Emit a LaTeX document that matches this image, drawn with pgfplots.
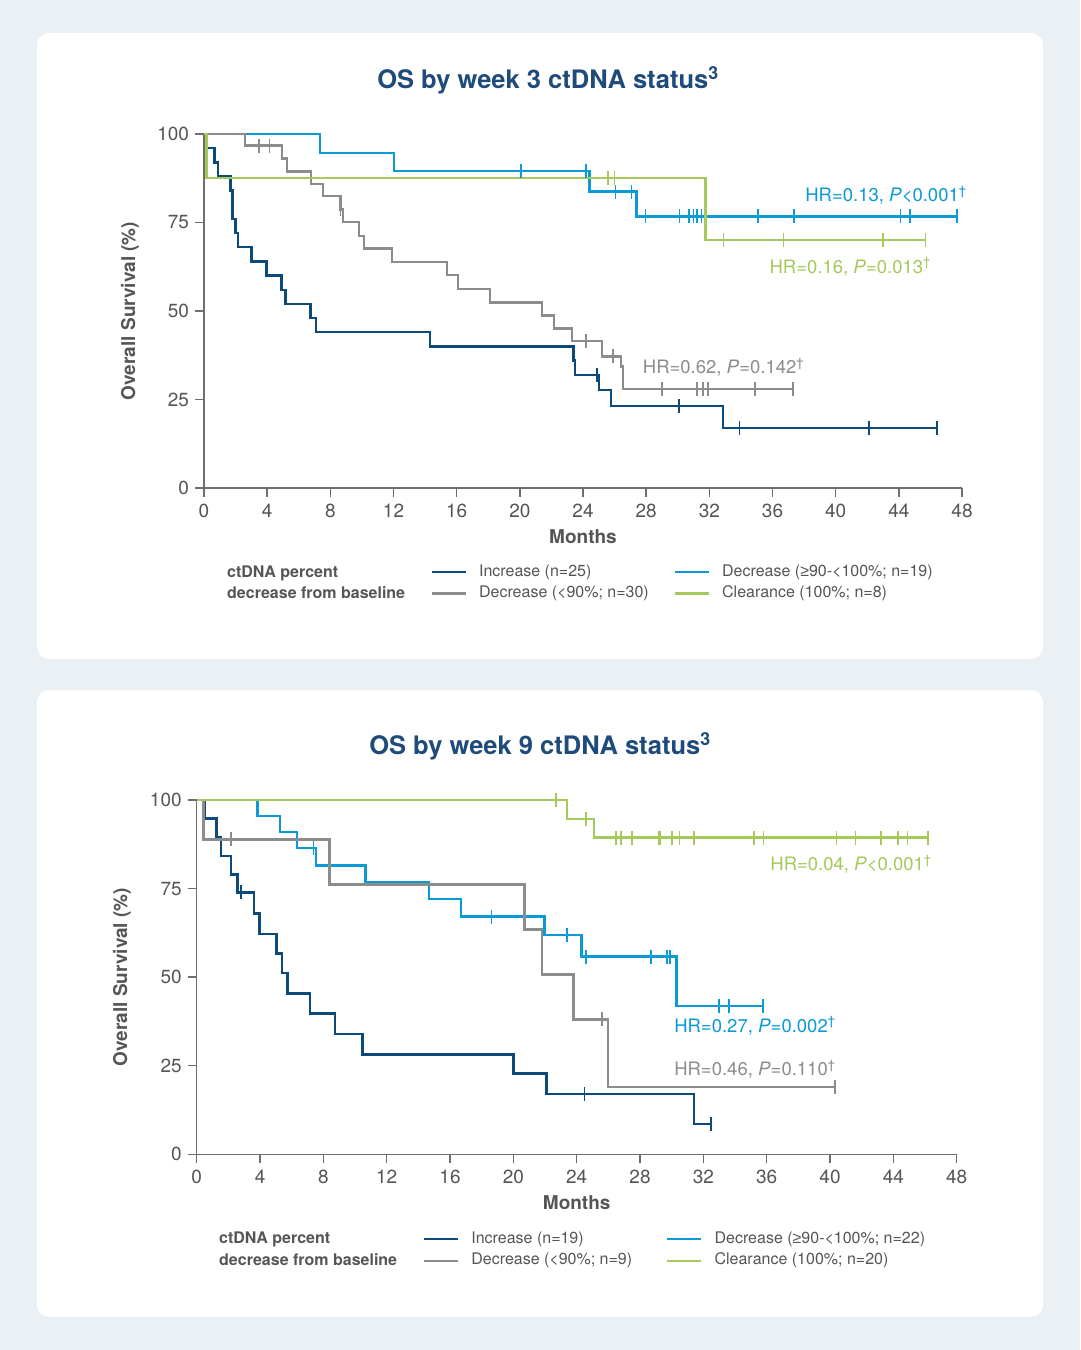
\documentclass[border=0pt]{standalone}
\usepackage{fontspec}
\setmainfont{TeX Gyre Heros}
\newfontfamily\ls{Liberation Sans}
\usepackage{pgfplots}
\pgfplotsset{compat=1.18}
\definecolor{bg}{HTML}{EBF0F5}
\definecolor{navy}{HTML}{0B4A7B}
\definecolor{lblue}{HTML}{0A9AD6}
\definecolor{kgray}{HTML}{8C8C8C}
\definecolor{kgreen}{HTML}{A5C95A}
\definecolor{ttl}{HTML}{1E4B7C}
\definecolor{txt}{HTML}{555555}
\definecolor{axg}{HTML}{6E6E6E}
\pgfplotsset{
  kmaxis/.style={
    scale only axis, enlargelimits=false, clip=false,
    xmin=0,xmax=48,ymin=0,ymax=100,
    axis lines=left, axis line style={-, draw=axg, line width=1.5pt},
    xtick={0,4,...,48}, ytick={0,25,50,75,100},
    tick align=outside, major tick length=9pt,
    tick style={draw=axg, line width=1.5pt},
    tick label style={font=\fontsize{19}{21}\selectfont, text=txt},
    xticklabel style={yshift=-3.5pt},
    yticklabel style={xshift=-2.5pt},
    /pgf/number format/assume math mode=true,
    label style={font=\bfseries\fontsize{19}{21}\selectfont, text=txt},
    xlabel={Months}, ylabel={Overall Survival (\%)},
    legend columns=2, legend cell align=left,
    legend style={draw=none, fill=none, inner sep=0pt, font=\fontsize{16}{18}\selectfont, text=txt, anchor=north west,
      nodes={inner sep=0pt, text height=12pt, text depth=3.5pt},
      /tikz/every odd column/.append style={column sep=12pt},
      row sep=6pt},
    legend image code/.code={\draw[##1, line width=2.4pt] (0pt,0pt) -- (34pt,0pt);},
  },
  km/.style={const plot, line width=2.4pt, color=#1},
  cens/.style={only marks, mark=|, mark size=7pt, color=#1, mark options={line width=1.6pt}, forget plot},
}
\tikzset{hr/.style={font=\fontsize{18.5}{20}\selectfont, inner sep=0pt, text height=13pt, text depth=0pt, text=#1}}
\begin{document}
\begin{tikzpicture}[x=1pt,y=1pt]
\fill[bg] (0,0) rectangle (1080,1350);
\fill[white, rounded corners=12pt] (37,691) rectangle (1043,1317);
\fill[white, rounded corners=12pt] (37,33) rectangle (1043,660);
\node[font=\bfseries\fontsize{25.5}{28}\selectfont, text=ttl] at (548,1270) {OS by week 3 ctDNA status\textsuperscript{3}};
\node[font=\bfseries\fontsize{16}{18}\selectfont, text=txt, anchor=west, inner sep=0pt, text height=12pt, text depth=3.5pt] at (227,777) {ctDNA percent};
\node[font=\bfseries\fontsize{16}{18}\selectfont, text=txt, anchor=west, inner sep=0pt, text height=12pt, text depth=3.5pt] at (227,756) {decrease from baseline};
\begin{axis}[kmaxis, at={(204pt,862pt)}, anchor=south west, width=758pt, height=354pt,
  x label style={at={(axis description cs:0.5,-0.1384)}, anchor=center},
  y label style={at={(axis description cs:-0.0976,0.5)}, anchor=center},
  legend style={at={(axis description cs:0.2988,-0.2154)}, /tikz/every even column/.append style={column sep=25pt}}]
% Increase n=25
\addplot[km=navy] coordinates {(0,100) (0.13,96) (0.67,92) (0.88,88) (1.69,84) (1.80,76) (2.0,72) (2.15,68) (3.0,64) (3.97,60) (4.9,56) (5.15,52) (6.75,48) (7.11,44) (14.3,40) (23.4,36) (23.5,32) (25.0,27.6) (25.76,23.2) (32.87,16.9) (46.4,16.9)};
\addlegendentry{Increase (n=25)}
% Decrease >=90-<100 n=19
\addplot[km=lblue] coordinates {(0,100) (7.34,94.7) (12.03,89.5) (24.4,83.7) (27.4,76.7) (47.7,76.7)};
\addlegendentry{Decrease ({\ls ≥}90-<100\%; n=19)}
% Decrease <90 n=30
\addplot[km=kgray] coordinates {(0,100) (2.6,96.7) (4.94,93.1) (5.27,89.4) (6.77,85.9) (7.55,82.4) (8.65,78.7) (8.8,75.1) (9.83,71.2) (10.13,67.6) (11.9,63.8) (15.4,60.1) (16.1,56.2) (18.1,52.4) (21.4,48.7) (22.15,45.1) (23.3,41.5) (25.2,37.2) (26.4,34.3) (26.55,27.9) (37.3,27.9)};
\addlegendentry{Decrease (<90\%; n=30)}
% Clearance n=8
\addplot[km=kgreen] coordinates {(0,100) (0.17,87.5) (31.75,70) (45.7,70)};
\addlegendentry{Clearance (100\%; n=8)}
% censor marks
\addplot[cens=navy] coordinates {(24.9,32) (30.06,23.2) (33.9,16.9) (42.1,16.9) (46.4,16.9)};
\addplot[cens=lblue] coordinates {(20.06,89.5) (24.2,89.5) (26.06,83.7) (27.07,83.7) (27.97,76.7) (30.1,76.7) (30.7,76.7) (31.0,76.7) (31.2,76.7) (31.5,76.7) (35.1,76.7) (37.35,76.7) (44.1,76.7) (44.7,76.7) (47.7,76.7)};
\addplot[cens=kgray] coordinates {(3.5,96.7) (4.15,96.7) (8.65,78.7) (24.2,41.5) (25.9,37.2) (29.0,27.9) (31.2,27.9) (31.6,27.9) (31.9,27.9) (34.9,27.9) (37.3,27.9)};
\addplot[cens=kgreen] coordinates {(25.6,87.5) (26.0,87.5) (32.9,70) (36.7,70) (43.0,70) (45.7,70)};
\node[hr=lblue, anchor=east] at (axis cs:48.3,82.8) {HR=0.13, \textit{P}<0.001\textsuperscript{†}};
\node[hr=kgreen, anchor=east] at (axis cs:46.04,62.5) {HR=0.16, \textit{P}=0.013\textsuperscript{†}};
\node[hr=kgray, anchor=west] at (axis cs:27.78,34.2) {HR=0.62, \textit{P}=0.142\textsuperscript{†}};
\end{axis}
% Panel 2
\node[font=\bfseries\fontsize{25.5}{28}\selectfont, text=ttl] at (540,604) {OS by week 9 ctDNA status\textsuperscript{3}};
\node[font=\bfseries\fontsize{16}{18}\selectfont, text=txt, anchor=west, inner sep=0pt, text height=12pt, text depth=3.5pt] at (219,111) {ctDNA percent};
\node[font=\bfseries\fontsize{16}{18}\selectfont, text=txt, anchor=west, inner sep=0pt, text height=12pt, text depth=3.5pt] at (219,89) {decrease from baseline};
\begin{axis}[kmaxis, at={(196.7pt,195.7pt)}, anchor=south west, width=760pt, height=354.3pt,
  x label style={at={(axis description cs:0.5,-0.1375)}, anchor=center},
  y label style={at={(axis description cs:-0.0983,0.5)}, anchor=center},
  legend style={at={(axis description cs:0.2975,-0.2173)}, /tikz/every even column/.append style={column sep=34pt}}]
\addplot[km=navy] coordinates {(0,100) (0.53,94.8) (1.26,89.5) (1.52,84.2) (2.17,79.0) (2.57,73.9) (3.6,68.0) (3.96,62.2) (5.03,56.7) (5.39,51.1) (5.73,45.4) (7.16,39.7) (8.74,34.0) (10.46,28.2) (20.0,22.8) (22.1,17.0) (31.4,8.5) (32.5,8.5)};
\addlegendentry{Increase (n=19)}
\addplot[km=lblue] coordinates {(0,100) (3.83,95.5) (5.26,90.9) (6.32,86.4) (7.54,81.5) (10.67,76.8) (14.67,72.0) (16.7,67.1) (21.96,61.9) (24.3,55.8) (30.3,41.9) (35.75,41.9)};
\addlegendentry{Decrease ({\ls ≥}90-<100\%; n=22)}
\addplot[km=kgray] coordinates {(0,100) (0.42,88.9) (8.38,76.2) (20.7,63.5) (21.8,50.8) (23.8,38.1) (25.96,19.05) (40.3,19.05)};
\addlegendentry{Decrease (<90\%; n=9)}
\addplot[km=kgreen] coordinates {(0,100) (23.4,94.6) (25.1,89.4) (46.2,89.4)};
\addlegendentry{Clearance (100\%; n=20)}
\addplot[cens=navy] coordinates {(2.78,73.9) (24.5,17.0) (32.5,8.5)};
\addplot[cens=kgray] coordinates {(2.17,88.9) (25.6,38.1) (40.3,19.05)};
\addplot[cens=lblue] coordinates {(7.37,86.4) (18.63,67.1) (23.37,61.9) (24.6,55.8) (28.7,55.8) (29.7,55.8) (29.9,55.8) (33.0,41.9) (33.6,41.9) (35.75,41.9)};
\addplot[cens=kgreen] coordinates {(22.7,100) (24.6,94.6) (26.5,89.4) (26.8,89.4) (27.5,89.4) (29.2,89.4) (29.3,89.4) (30.0,89.4) (30.5,89.4) (31.4,89.4) (35.2,89.4) (35.8,89.4) (40.4,89.4) (41.6,89.4) (43.2,89.4) (44.3,89.4) (44.9,89.4) (46.2,89.4)};
\node[hr=kgreen, anchor=east] at (axis cs:46.43,81.9) {HR=0.04, \textit{P}<0.001\textsuperscript{†}};
\node[hr=lblue, anchor=west] at (axis cs:30.15,36.3) {HR=0.27, \textit{P}=0.002\textsuperscript{†}};
\node[hr=kgray, anchor=west] at (axis cs:30.15,24.1) {HR=0.46, \textit{P}=0.110\textsuperscript{†}};
\end{axis}
\end{tikzpicture}
\end{document}
